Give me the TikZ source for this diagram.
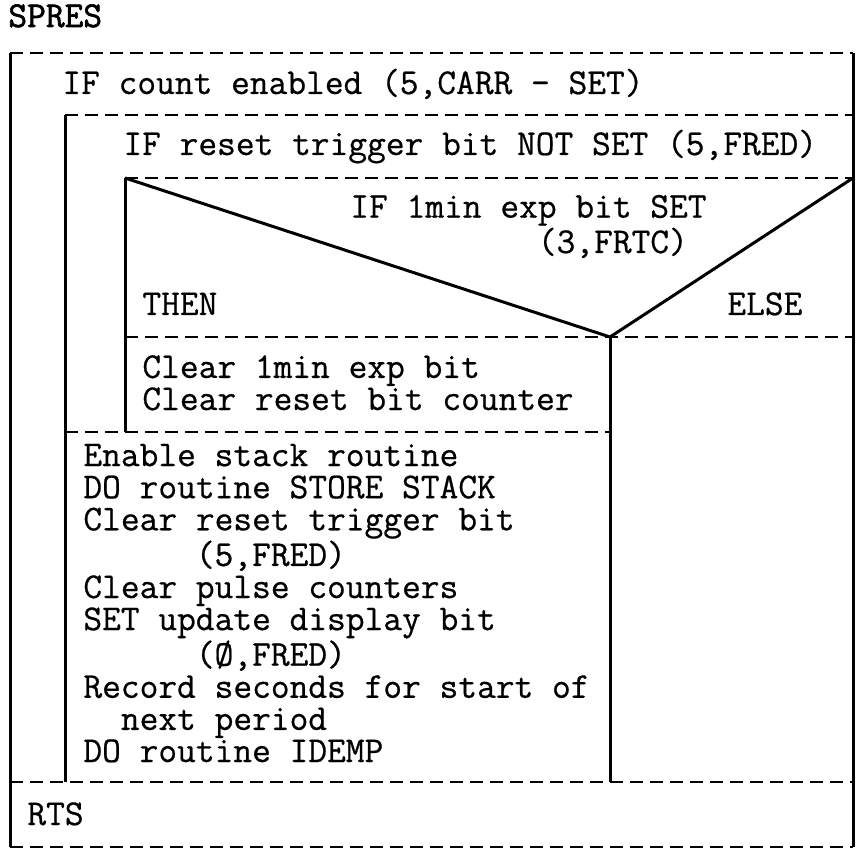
\documentclass[tikz,border=0pt]{standalone}
\usepackage{fontspec}
\newfontfamily\tw{Latin Modern Mono}[FakeBold=0.6]
\newfontfamily\twb{Latin Modern Mono}[FakeBold=1.6]
\begin{document}
\begin{tikzpicture}[x=0.5pt,y=-0.5pt,
  solidline/.style={line width=1.5pt},
  dashline/.style={line width=1.2pt,dash pattern=on 6.5pt off 3.5pt},
  txt/.style={anchor=base west,inner sep=0pt,align=left,
    font=\tw\fontsize{18.2}{16.05}\selectfont}]
\useasboundingbox (0,0) rectangle (860,849);

% corner points of the structure chart
\coordinate (otl) at (10,53);   \coordinate (otr) at (853,53);
\coordinate (obl) at (10,847);  \coordinate (obr) at (853,847);
\coordinate (atl) at (65,115);  \coordinate (atr) at (853,115);
\coordinate (abl) at (65,782);
\coordinate (ttl) at (125,178); \coordinate (ttr) at (853,178);
\coordinate (tbl) at (125,432);
\coordinate (v)   at (610,337);
\coordinate (tml) at (125,337); \coordinate (tmr) at (853,337);
\coordinate (vb)  at (610,782);
\coordinate (sl)  at (65,432);  \coordinate (sr)  at (610,432);
\coordinate (rl)  at (10,782);  \coordinate (rr)  at (853,782);

% outer block
\draw[solidline] (otl) -- (obl);
\draw[solidline] (otr) -- (obr);
\draw[dashline] (otl) -- (otr);
\draw[dashline] (obl) -- (obr);
\draw[dashline] (rl) -- (rr);

% IF count enabled block
\draw[dashline] (atl) -- (atr);
\draw[solidline] (atl) -- (abl);

% IF reset trigger block
\draw[dashline] (ttl) -- (ttr);
\draw[solidline] (ttl) -- (tbl);
\draw[dashline] (sl) -- (sr);

% decision triangle
\draw[solidline] (ttl) -- (v) -- (ttr);
\draw[dashline] (tml) -- (tmr);
\draw[solidline] (v) -- (vb);

% texts (multi-line nodes sit on the baseline of their last line)
\node[txt,font=\twb\fontsize{18.2}{16.05}\selectfont] (title) at (8,27) {SPRES};
\node[txt] (ifcount) at (62,94) {IF count enabled (5,CARR - SET)};
\node[txt] (ifreset) at (123,155) {IF reset trigger bit NOT SET (5,FRED)};
\node[txt] (ifmin) at (350,253) {IF 1min exp bit SET\\\phantom{IF 1min ex}(3,FRTC)};
\node[txt] (then) at (142,315) {THEN};
\node[txt] (else) at (727,315) {ELSE};
\node[txt] (clr) at (142,410) {Clear 1min exp bit\\Clear reset bit counter};
\node[txt] (body) at (83,762) {Enable stack routine\\
DO routine STORE STACK\\
Clear reset trigger bit\\
\phantom{Clear }(5,FRED)\\
Clear pulse counters\\
SET update display bit\\
\phantom{Clear }(Ø,FRED)\\
Record seconds for start of\\
\phantom{Re}next period\\
DO routine IDEMP};
\node[txt] (rts) at (27,825) {RTS};
\end{tikzpicture}
\end{document}
